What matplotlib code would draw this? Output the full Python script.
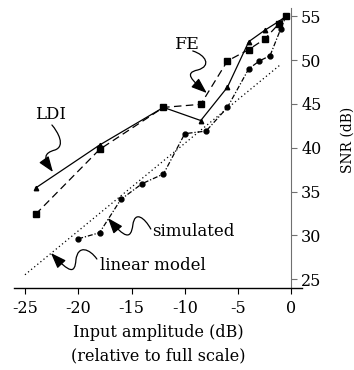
import matplotlib
matplotlib.use("Agg")
import matplotlib.pyplot as plt
from matplotlib.patches import FancyArrowPatch
from matplotlib.path import Path

plt.rcParams['font.family'] = ['DejaVu Serif', 'Liberation Serif']

# Data
ldi_x = [-24, -18, -12, -8.5, -6, -4, -2.5, -1.2, -0.5]
ldi_y = [35.4, 40.3, 44.6, 43.1, 46.9, 52.1, 53.4, 54.4, 55.0]

fe_x = [-24, -18, -12, -8.5, -6, -4, -2.5, -1.2, -0.5]
fe_y = [32.4, 39.8, 44.6, 44.95, 49.9, 51.2, 52.4, 54.1, 55.0]

sim_x = [-20, -18, -16, -14, -12, -10, -8, -6, -4, -3, -2, -1, -0.5]
sim_y = [29.6, 30.3, 34.1, 35.9, 37.0, 41.6, 41.9, 44.6, 49.0, 49.9, 50.5, 53.55, 55.0]

lin_x = [-25, -1]
lin_y = [25.5, 49.5]

xticks = [-25, -20, -15, -10, -5, 0]
yticks = [25, 30, 35, 40, 45, 50, 55]

FS = 11.5

fig = plt.figure(figsize=(3.54, 3.70), dpi=100)
ax = fig.add_axes([14.3/354, 82.1/370, 287.7/354, 280.4/370])
ax.set_xlim(-26, 1)
ax.set_ylim(24, 56)

ax.plot(lin_x, lin_y, color='black', lw=0.9, linestyle=(0, (1, 2.2)))
ax.plot(sim_x, sim_y, color='black', lw=0.9, linestyle=(0, (4, 1.5, 1, 1.5)),
        marker='o', markersize=3.5)
ax.plot(fe_x, fe_y, color='black', lw=0.9, linestyle=(0, (6, 3.5)),
        marker='s', markersize=5)
ax.plot(ldi_x, ldi_y, color='black', lw=0.9, linestyle='-',
        marker='^', markersize=3.2)

for s in ['left', 'top']:
    ax.spines[s].set_visible(False)
ax.spines['right'].set_position(('data', 0))
ax.spines['right'].set_bounds(24, 56)
ax.spines['right'].set_color('#707070')
ax.spines['bottom'].set_linewidth(1.0)
ax.yaxis.tick_right()
ax.yaxis.set_label_position('right')
ax.set_xticks(xticks)
ax.set_xticklabels([str(t) for t in xticks])
ax.set_yticks(yticks)
ax.tick_params(axis='both', direction='out', length=4, width=0.8, labelsize=FS)
ax.tick_params(axis='x', pad=5)
ax.tick_params(axis='y', pad=3, color='#707070')
ax.set_xlabel('Input amplitude (dB)\n(relative to full scale)', fontsize=FS, linespacing=1.5)
ax.set_ylabel('SNR (dB)', fontsize=10)
ax.yaxis.label.set_verticalalignment('center')
ax.yaxis.set_label_coords(1.158, 0.527)
ax.xaxis.set_label_coords(0.5, -0.13)
ax.xaxis.label.set_va('top')

def px(x, y):
    return (-25 + (x - 25) / 10.667, 55 - (y - 16.3) / 8.76)

def curly(points):
    verts = [px(*p) for p in points]
    codes = [Path.MOVETO] + [Path.CURVE4] * (len(verts) - 1)
    arr = FancyArrowPatch(path=Path(verts, codes), arrowstyle='-|>,head_length=0.95,head_width=0.35',
                          mutation_scale=10, color='black', lw=0.9, transform=ax.transData)
    ax.add_patch(arr)

AFS = FS + 0.5
# FE
ax.text(*px(188, 45), 'FE', fontsize=AFS + 0.5, ha='center', va='center')
curly([(193, 51), (206, 55), (212, 66), (198, 70), (184, 73), (192, 80), (207, 93)])
# LDI
ax.text(*px(51, 115), 'LDI', fontsize=AFS, ha='center', va='center')
curly([(52, 125), (58, 132), (66, 146), (55, 150), (44, 153), (43, 158), (53, 172)])
# simulated
ax.text(*px(152, 231), 'simulated', fontsize=AFS, ha='left', va='center')
curly([(151, 229), (145, 218), (135, 210), (133, 225), (131, 240), (125, 238), (108, 218)])
# linear model
ax.text(*px(100, 265), 'linear model', fontsize=AFS, ha='left', va='center')
curly([(97, 259), (90, 249), (78, 244), (76, 260), (75, 274), (70, 273), (51, 253)])

fig.savefig('out.png', dpi=100)
